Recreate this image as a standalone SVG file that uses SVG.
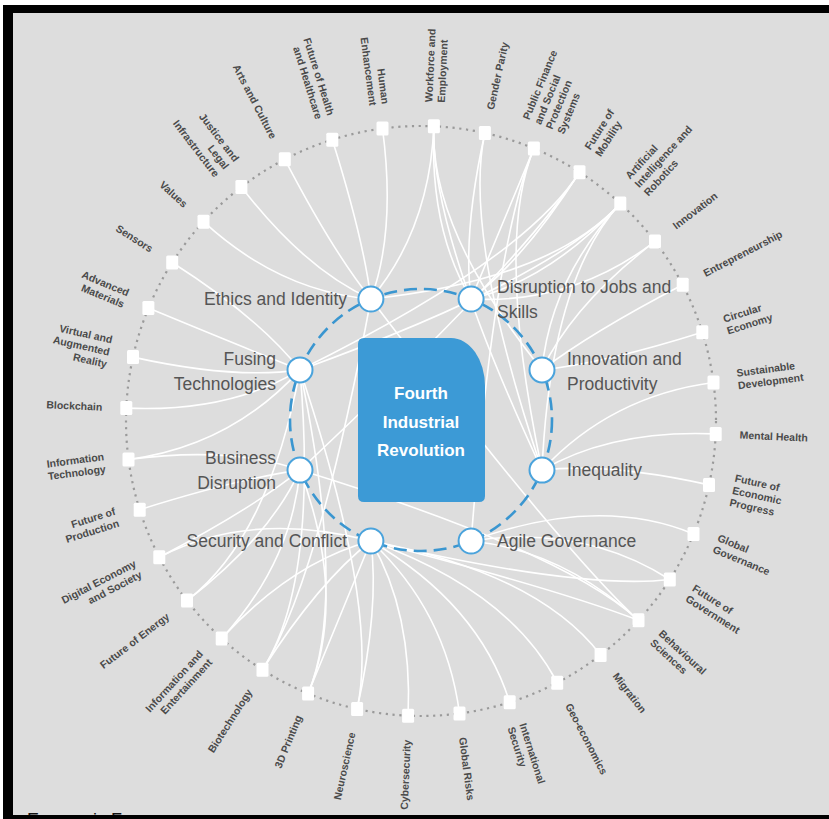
<svg xmlns="http://www.w3.org/2000/svg" width="829" height="819" viewBox="0 0 829 819">
<defs>
<style>
.bg{fill:#dddddd}
.frame{fill:#000}
.ring{fill:none;stroke:#9a9a9a;stroke-width:2.2;stroke-dasharray:2.2 4.6}
.dash{fill:none;stroke:#3a96d0;stroke-width:2.6;stroke-dasharray:13 7}
.con path{fill:none;stroke:#ffffff;stroke-width:1.6;stroke-linecap:round}
.sq{fill:#ffffff}
.hub{fill:#ffffff;stroke:#4aa3dc;stroke-width:2}
.hl{font-family:"Liberation Sans",Arial,sans-serif;font-size:17.5px;fill:#555555}
.ol{font-family:"Liberation Sans",Arial,sans-serif;font-size:10.5px;font-weight:bold;fill:#4a4a4a}
.r{text-anchor:start}
.l{text-anchor:end}
.ct{font-family:"Liberation Sans",Arial,sans-serif;font-size:17px;font-weight:bold;fill:#ffffff;text-anchor:middle}
</style>
<clipPath id="clipGray"><rect x="13" y="13" width="816" height="802"/></clipPath>
</defs>

<rect x="0" y="0" width="829" height="819" fill="#ffffff"/>
<rect class="bg" x="13" y="13" width="816" height="802"/>
<text x="27" y="826" clip-path="url(#clipGray)" font-family="Liberation Sans, Arial, sans-serif" font-size="18" fill="#111">Economic F</text>

<circle class="ring" cx="421" cy="421" r="295"/>

<g id="connectors" class="con">
<!-- Ethics and Identity -->
<path d="M382.5,128.5 Q396.0,230.9 370.9,299"/>
<path d="M332.3,139.7 Q363.3,238.2 370.9,299"/>
<path d="M284.8,159.3 Q332.5,250.9 370.9,299"/>
<path d="M241.4,187.0 Q304.3,268.9 370.9,299"/>
<path d="M203.5,221.7 Q279.6,291.5 370.9,299"/>
<path d="M620.3,203.5 Q550.6,279.6 370.9,299"/>
<path d="M433.9,126.3 Q429.4,229.4 370.9,299"/>
<path d="M638.5,620.3 Q562.4,550.6 370.9,299"/>
<path d="M262.5,669.8 Q318.0,582.7 370.9,299"/>
<!-- Disruption to Jobs and Skills -->
<path d="M433.9,126.3 Q429.4,229.4 471.1,299"/>
<path d="M484.9,133.0 Q462.5,233.8 471.1,299"/>
<path d="M533.9,148.4 Q494.4,243.8 471.1,299"/>
<path d="M579.5,172.2 Q524.0,259.3 471.1,299"/>
<path d="M620.3,203.5 Q550.6,279.6 471.1,299"/>
<path d="M655.0,241.4 Q573.1,304.3 471.1,299"/>
<!-- Innovation and Productivity -->
<path d="M702.3,332.3 Q603.8,363.3 542,369.9"/>
<path d="M682.7,284.8 Q591.1,332.5 542,369.9"/>
<path d="M655.0,241.4 Q573.1,304.3 542,369.9"/>
<path d="M620.3,203.5 Q550.6,279.6 542,369.9"/>
<path d="M433.9,126.3 Q429.4,229.4 542,369.9"/>
<!-- Inequality -->
<path d="M713.5,382.5 Q611.1,396.0 542,470.1"/>
<path d="M715.7,433.9 Q612.6,429.4 542,470.1"/>
<path d="M709.0,484.9 Q608.2,462.5 542,470.1"/>
<path d="M433.9,126.3 Q429.4,229.4 542,470.1"/>
<path d="M484.9,133.0 Q462.5,233.8 542,470.1"/>
<path d="M533.9,148.4 Q494.4,243.8 542,470.1"/>
<path d="M620.3,203.5 Q550.6,279.6 542,470.1"/>
<!-- Fusing Technologies -->
<path d="M172.2,262.5 Q259.3,318.0 300,369.9"/>
<path d="M148.4,308.1 Q243.8,347.6 300,369.9"/>
<path d="M133.0,357.1 Q233.8,379.5 300,369.9"/>
<path d="M126.3,408.1 Q229.4,412.6 300,369.9"/>
<path d="M128.5,459.5 Q230.9,446.0 300,369.9"/>
<path d="M620.3,203.5 Q550.6,279.6 300,369.9"/>
<path d="M579.5,172.2 Q524.0,259.3 300,369.9"/>
<path d="M262.5,669.8 Q318.0,582.7 300,369.9"/>
<path d="M308.1,693.5 Q347.6,598.1 300,369.9"/>
<path d="M357.1,709.0 Q379.5,608.2 300,369.9"/>
<path d="M187.0,600.6 Q268.9,537.7 300,369.9"/>
<!-- Business Disruption -->
<path d="M139.7,509.7 Q238.2,478.7 300,470.1"/>
<path d="M159.3,557.2 Q250.9,509.5 300,470.1"/>
<path d="M187.0,600.6 Q268.9,537.7 300,470.1"/>
<path d="M221.7,638.5 Q291.5,562.4 300,470.1"/>
<path d="M128.5,459.5 Q230.9,446.0 300,470.1"/>
<path d="M579.5,172.2 Q524.0,259.3 300,470.1"/>
<path d="M308.1,693.5 Q347.6,598.1 300,470.1"/>
<path d="M638.5,620.3 Q562.4,550.6 300,470.1"/>
<!-- Security and Conflict -->
<path d="M408.1,715.7 Q412.6,612.6 370.9,541"/>
<path d="M459.5,713.5 Q446.0,611.1 370.9,541"/>
<path d="M509.7,702.3 Q478.7,603.8 370.9,541"/>
<path d="M557.2,682.7 Q509.5,591.1 370.9,541"/>
<path d="M600.6,655.0 Q537.7,573.1 370.9,541"/>
<path d="M638.5,620.3 Q560,590 370.9,541"/>
<path d="M669.8,579.5 Q580,590 370.9,541"/>
<path d="M357.1,709.0 Q379.5,608.2 370.9,541"/>
<path d="M308.1,693.5 Q347.6,598.1 370.9,541"/>
<path d="M262.5,669.8 Q318.0,582.7 370.9,541"/>
<path d="M221.7,638.5 Q291.5,562.4 370.9,541"/>
<path d="M159.3,557.2 Q250.9,509.5 370.9,541"/>
<!-- Agile Governance -->
<path d="M693.5,533.9 Q598.1,494.4 471.1,541"/>
<path d="M669.8,579.5 Q582.7,524.0 471.1,541"/>
<path d="M638.5,620.3 Q562.4,550.6 471.1,541"/>
<path d="M533.9,148.4 Q494.4,243.8 471.1,541"/>
</g>

<g id="topics">
<g id="t0"><rect class="sq" x="427.9" y="119.3" width="12" height="14" rx="1.5"/><text class="ol r" transform="rotate(-87.5 421 421)" x="740" y="421"><tspan x="740" dy="-2.55">Workforce and</tspan><tspan x="740" dy="12.5">Employment</tspan></text></g>
<g id="t1"><rect class="sq" x="478.9" y="126.0" width="12" height="14" rx="1.5"/><text class="ol r" transform="rotate(-77.5 421 421)" x="740" y="421" dy="3.7">Gender Parity</text></g>
<g id="t2"><rect class="sq" x="527.9" y="141.4" width="12" height="14" rx="1.5"/><text class="ol r" transform="rotate(-67.5 421 421)" x="740" y="421"><tspan x="740" dy="-15.05">Public Finance</tspan><tspan x="740" dy="12.5">and Social</tspan><tspan x="740" dy="12.5">Protection</tspan><tspan x="740" dy="12.5">Systems</tspan></text></g>
<g id="t3"><rect class="sq" x="573.5" y="165.2" width="12" height="14" rx="1.5"/><text class="ol r" transform="rotate(-57.5 421 421)" x="740" y="421"><tspan x="740" dy="-2.55">Future of</tspan><tspan x="740" dy="12.5">Mobility</tspan></text></g>
<g id="t4"><rect class="sq" x="614.3" y="196.5" width="12" height="14" rx="1.5"/><text class="ol r" transform="rotate(-47.5 421 421)" x="740" y="421"><tspan x="740" dy="-8.8">Artificial</tspan><tspan x="740" dy="12.5">Intelligence and</tspan><tspan x="740" dy="12.5">Robotics</tspan></text></g>
<g id="t5"><rect class="sq" x="649.0" y="234.4" width="12" height="14" rx="1.5"/><text class="ol r" transform="rotate(-37.5 421 421)" x="740" y="421" dy="3.7">Innovation</text></g>
<g id="t6"><rect class="sq" x="676.7" y="277.8" width="12" height="14" rx="1.5"/><text class="ol r" transform="rotate(-27.5 421 421)" x="740" y="421" dy="3.7">Entrepreneurship</text></g>
<g id="t7"><rect class="sq" x="696.3" y="325.3" width="12" height="14" rx="1.5"/><text class="ol r" transform="rotate(-17.5 421 421)" x="740" y="421"><tspan x="740" dy="-2.55">Circular</tspan><tspan x="740" dy="12.5">Economy</tspan></text></g>
<g id="t8"><rect class="sq" x="707.5" y="375.5" width="12" height="14" rx="1.5"/><text class="ol r" transform="rotate(-7.5 421 421)" x="740" y="421"><tspan x="740" dy="-2.55">Sustainable</tspan><tspan x="740" dy="12.5">Development</tspan></text></g>
<g id="t9"><rect class="sq" x="709.7" y="426.9" width="12" height="14" rx="1.5"/><text class="ol r" transform="rotate(2.5 421 421)" x="740" y="421" dy="3.7">Mental Health</text></g>
<g id="t10"><rect class="sq" x="703.0" y="477.9" width="12" height="14" rx="1.5"/><text class="ol r" transform="rotate(12.5 421 421)" x="740" y="421"><tspan x="740" dy="-8.8">Future of</tspan><tspan x="740" dy="12.5">Economic</tspan><tspan x="740" dy="12.5">Progress</tspan></text></g>
<g id="t11"><rect class="sq" x="687.5" y="526.9" width="12" height="14" rx="1.5"/><text class="ol r" transform="rotate(22.5 421 421)" x="740" y="421"><tspan x="740" dy="-2.55">Global</tspan><tspan x="740" dy="12.5">Governance</tspan></text></g>
<g id="t12"><rect class="sq" x="663.8" y="572.5" width="12" height="14" rx="1.5"/><text class="ol r" transform="rotate(32.5 421 421)" x="740" y="421"><tspan x="740" dy="-2.55">Future of</tspan><tspan x="740" dy="12.5">Government</tspan></text></g>
<g id="t13"><rect class="sq" x="632.5" y="613.3" width="12" height="14" rx="1.5"/><text class="ol r" transform="rotate(42.5 421 421)" x="740" y="421"><tspan x="740" dy="-2.55">Behavioural</tspan><tspan x="740" dy="12.5">Sciences</tspan></text></g>
<g id="t14"><rect class="sq" x="594.6" y="648.0" width="12" height="14" rx="1.5"/><text class="ol r" transform="rotate(52.5 421 421)" x="740" y="421" dy="3.7">Migration</text></g>
<g id="t15"><rect class="sq" x="551.2" y="675.7" width="12" height="14" rx="1.5"/><text class="ol r" transform="rotate(62.5 421 421)" x="740" y="421" dy="3.7">Geo-economics</text></g>
<g id="t16"><rect class="sq" x="503.7" y="695.3" width="12" height="14" rx="1.5"/><text class="ol r" transform="rotate(72.5 421 421)" x="740" y="421"><tspan x="740" dy="-2.55">International</tspan><tspan x="740" dy="12.5">Security</tspan></text></g>
<g id="t17"><rect class="sq" x="453.5" y="706.5" width="12" height="14" rx="1.5"/><text class="ol r" transform="rotate(82.5 421 421)" x="740" y="421" dy="3.7">Global Risks</text></g>
<g id="t18"><rect class="sq" x="402.1" y="708.7" width="12" height="14" rx="1.5"/><text class="ol l" transform="rotate(-87.5 421 421)" x="102" y="421" dy="3.7">Cybersecurity</text></g>
<g id="t19"><rect class="sq" x="351.1" y="702.0" width="12" height="14" rx="1.5"/><text class="ol l" transform="rotate(-77.5 421 421)" x="102" y="421" dy="3.7">Neuroscience</text></g>
<g id="t20"><rect class="sq" x="302.1" y="686.5" width="12" height="14" rx="1.5"/><text class="ol l" transform="rotate(-67.5 421 421)" x="102" y="421" dy="3.7">3D Printing</text></g>
<g id="t21"><rect class="sq" x="256.5" y="662.8" width="12" height="14" rx="1.5"/><text class="ol l" transform="rotate(-57.5 421 421)" x="102" y="421" dy="3.7">Biotechnology</text></g>
<g id="t22"><rect class="sq" x="215.7" y="631.5" width="12" height="14" rx="1.5"/><text class="ol l" transform="rotate(-47.5 421 421)" x="102" y="421"><tspan x="102" dy="-2.55">Information and</tspan><tspan x="102" dy="12.5">Entertainment</tspan></text></g>
<g id="t23"><rect class="sq" x="181.0" y="593.6" width="12" height="14" rx="1.5"/><text class="ol l" transform="rotate(-37.5 421 421)" x="102" y="421" dy="3.7">Future of Energy</text></g>
<g id="t24"><rect class="sq" x="153.3" y="550.2" width="12" height="14" rx="1.5"/><text class="ol l" transform="rotate(-27.5 421 421)" x="102" y="421"><tspan x="102" dy="-2.55">Digital Economy</tspan><tspan x="102" dy="12.5">and Society</tspan></text></g>
<g id="t25"><rect class="sq" x="133.7" y="502.7" width="12" height="14" rx="1.5"/><text class="ol l" transform="rotate(-17.5 421 421)" x="102" y="421"><tspan x="102" dy="-2.55">Future of</tspan><tspan x="102" dy="12.5">Production</tspan></text></g>
<g id="t26"><rect class="sq" x="122.5" y="452.5" width="12" height="14" rx="1.5"/><text class="ol l" transform="rotate(-7.5 421 421)" x="102" y="421"><tspan x="102" dy="-2.55">Information</tspan><tspan x="102" dy="12.5">Technology</tspan></text></g>
<g id="t27"><rect class="sq" x="120.3" y="401.1" width="12" height="14" rx="1.5"/><text class="ol l" transform="rotate(2.5 421 421)" x="102" y="421" dy="3.7">Blockchain</text></g>
<g id="t28"><rect class="sq" x="127.0" y="350.1" width="12" height="14" rx="1.5"/><text class="ol l" transform="rotate(12.5 421 421)" x="102" y="421"><tspan x="102" dy="-8.8">Virtual and</tspan><tspan x="102" dy="12.5">Augmented</tspan><tspan x="102" dy="12.5">Reality</tspan></text></g>
<g id="t29"><rect class="sq" x="142.4" y="301.1" width="12" height="14" rx="1.5"/><text class="ol l" transform="rotate(22.5 421 421)" x="102" y="421"><tspan x="102" dy="-2.55">Advanced</tspan><tspan x="102" dy="12.5">Materials</tspan></text></g>
<g id="t30"><rect class="sq" x="166.2" y="255.5" width="12" height="14" rx="1.5"/><text class="ol l" transform="rotate(32.5 421 421)" x="102" y="421" dy="3.7">Sensors</text></g>
<g id="t31"><rect class="sq" x="197.5" y="214.7" width="12" height="14" rx="1.5"/><text class="ol l" transform="rotate(42.5 421 421)" x="102" y="421" dy="3.7">Values</text></g>
<g id="t32"><rect class="sq" x="235.4" y="180.0" width="12" height="14" rx="1.5"/><text class="ol l" transform="rotate(52.5 421 421)" x="102" y="421"><tspan x="102" dy="-8.8">Justice and</tspan><tspan x="102" dy="12.5">Legal</tspan><tspan x="102" dy="12.5">Infrastructure</tspan></text></g>
<g id="t33"><rect class="sq" x="278.8" y="152.3" width="12" height="14" rx="1.5"/><text class="ol l" transform="rotate(62.5 421 421)" x="102" y="421" dy="3.7">Arts and Culture</text></g>
<g id="t34"><rect class="sq" x="326.3" y="132.7" width="12" height="14" rx="1.5"/><text class="ol l" transform="rotate(72.5 421 421)" x="102" y="421"><tspan x="102" dy="-2.55">Future of Health</tspan><tspan x="102" dy="12.5">and Healthcare</tspan></text></g>
<g id="t35"><rect class="sq" x="376.5" y="121.5" width="12" height="14" rx="1.5"/><text class="ol l" transform="rotate(82.5 421 421)" x="102" y="421"><tspan x="102" dy="-2.55">Human</tspan><tspan x="102" dy="12.5">Enhancement</tspan></text></g>
</g>

<circle class="dash" cx="421" cy="420" r="131"/>

<g id="center">
<path d="M364,338 H451 A34,48 0 0 1 485,386 V496 Q485,502 479,502 H364 Q358,502 358,496 V344 Q358,338 364,338 Z" fill="#3c9ad6"/>
<text class="ct" x="421" y="399">Fourth</text>
<text class="ct" x="421" y="428">Industrial</text>
<text class="ct" x="421" y="456">Revolution</text>
</g>

<g id="hub-ethics"><circle class="hub" cx="370.9" cy="299" r="12.5"/><text class="hl" x="347" y="305" text-anchor="end">Ethics and Identity</text></g>
<g id="hub-jobs"><circle class="hub" cx="471.1" cy="299" r="12.5"/><text class="hl" x="497" y="293">Disruption to Jobs and</text><text class="hl" x="497" y="318">Skills</text></g>
<g id="hub-innovation"><circle class="hub" cx="542" cy="369.9" r="12.5"/><text class="hl" x="567" y="365">Innovation and</text><text class="hl" x="567" y="390">Productivity</text></g>
<g id="hub-inequality"><circle class="hub" cx="542" cy="470.1" r="12.5"/><text class="hl" x="567" y="476">Inequality</text></g>
<g id="hub-agile"><circle class="hub" cx="471.1" cy="541" r="12.5"/><text class="hl" x="497" y="547">Agile Governance</text></g>
<g id="hub-security"><circle class="hub" cx="370.9" cy="541" r="12.5"/><text class="hl" x="347" y="547" text-anchor="end">Security and Conflict</text></g>
<g id="hub-business"><circle class="hub" cx="300" cy="470.1" r="12.5"/><text class="hl" x="276" y="464" text-anchor="end">Business</text><text class="hl" x="276" y="489" text-anchor="end">Disruption</text></g>
<g id="hub-fusing"><circle class="hub" cx="300" cy="369.9" r="12.5"/><text class="hl" x="276" y="365" text-anchor="end">Fusing</text><text class="hl" x="276" y="390" text-anchor="end">Technologies</text></g>

<rect class="frame" x="3" y="5" width="826" height="8"/>
<rect class="frame" x="3" y="5" width="10" height="814"/>
<rect class="frame" x="3" y="815" width="826" height="4"/>
</svg>
